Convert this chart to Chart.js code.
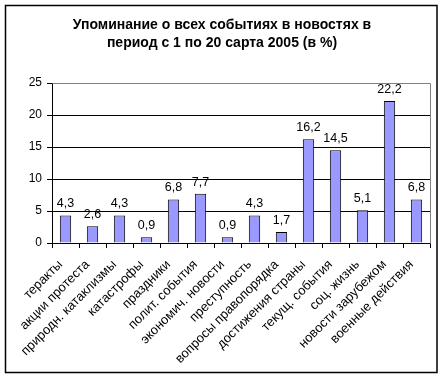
<!DOCTYPE html>
<html>
<head>
<meta charset="utf-8">
<script src="https://cdn.jsdelivr.net/npm/chart.js@4.4.1/dist/chart.umd.min.js"></script>
<style>
html,body{margin:0;padding:0;background:#fff;}
#wrap{position:relative;width:445px;height:379px;}
</style>
</head>
<body>
<div id="wrap"><canvas id="c" width="445" height="379"></canvas></div>
<script>
const titleLines = ['Упоминание о всех событиях в новостях в', 'период с 1 по 20 сарта 2005 (в %)'];
const categories = ['теракты', 'акции протеста', 'природн. катаклизмы', 'катастрофы', 'праздники', 'полит. события', 'экономич. новости', 'преступность', 'вопросы правопорядка', 'достижения страны', 'текущ. события', 'соц. жизнь', 'новости зарубежом', 'военные действия'];
const values = [4.3, 2.6, 4.3, 0.9, 6.8, 7.7, 0.9, 4.3, 1.7, 16.2, 14.5, 5.1, 22.2, 6.8];
const yTicks = [0, 5, 10, 15, 20, 25];

const FONT = "'Liberation Sans', Arial, sans-serif";

const framePlugin = {
  id: 'frame',
  beforeDraw(chart) {
    const ctx = chart.ctx;
    ctx.save();
    ctx.fillStyle = '#fff';
    ctx.fillRect(0, 0, chart.width, chart.height);
    ctx.restore();
  },
  afterDraw(chart) {
    const ctx = chart.ctx;
    const a = chart.chartArea;
    ctx.save();
    ctx.strokeStyle = '#808080';
    ctx.lineWidth = 1;
    ctx.beginPath();
    ctx.moveTo(Math.round(a.left) + 0.5, Math.round(a.top) + 0.5);
    ctx.lineTo(Math.round(a.right) + 0.5, Math.round(a.top) + 0.5);
    ctx.lineTo(Math.round(a.right) + 0.5, Math.round(a.bottom) + 0.5);
    ctx.stroke();
    ctx.strokeStyle = '#000';
    ctx.lineWidth = 1.5;
    ctx.strokeRect(5.5, 5.5, 431.5, 367);
    ctx.fillStyle = '#000';
    ctx.font = 'bold 14px ' + FONT;
    ctx.textAlign = 'center';
    ctx.textBaseline = 'middle';
    titleLines.forEach((t, i) => ctx.fillText(t, 222, 25 + i * 18));
    ctx.font = '12.5px ' + FONT;
    ctx.textBaseline = 'alphabetic';
    const meta = chart.getDatasetMeta(0);
    meta.data.forEach((bar, i) => {
      const label = values[i].toFixed(1).replace('.', ',');
      ctx.fillText(label, bar.x, bar.y - 8);
    });
    ctx.restore();
  }
};

new Chart(document.getElementById('c'), {
  type: 'bar',
  data: {
    labels: categories,
    datasets: [{
      data: values,
      backgroundColor: '#9999FF',
      borderColor: '#000',
      borderWidth: 1,
      barPercentage: 0.42,
      categoryPercentage: 1.0
    }]
  },
  options: {
    responsive: false,
    animation: false,
    events: [],
    layout: { padding: { left: 0, right: 15, top: 83, bottom: 0 } },
    plugins: { legend: { display: false }, title: { display: false }, tooltip: { enabled: false } },
    scales: {
      x: {
        offset: true,
        grid: { offset: true, drawOnChartArea: false, drawTicks: true, tickLength: 5, color: '#000' },
        border: { color: '#000', width: 1 },
        ticks: {
          autoSkip: false, maxRotation: 45, minRotation: 45, padding: 9, labelOffset: -5,
          color: '#000', font: { family: FONT, size: 13 }
        },
        afterFit(s) { s.height = 379 - 243; }
      },
      y: {
        min: 0, max: 25,
        afterBuildTicks(s) { s.ticks = yTicks.map(v => ({ value: v })); },
        grid: { color: '#000', tickLength: 5 },
        border: { color: '#000', width: 1 },
        ticks: { padding: 5, color: '#000', font: { family: FONT, size: 12 } },
        afterFit(s) { s.width = 52; }
      }
    }
  },
  plugins: [framePlugin]
});
</script>
</body>
</html>
